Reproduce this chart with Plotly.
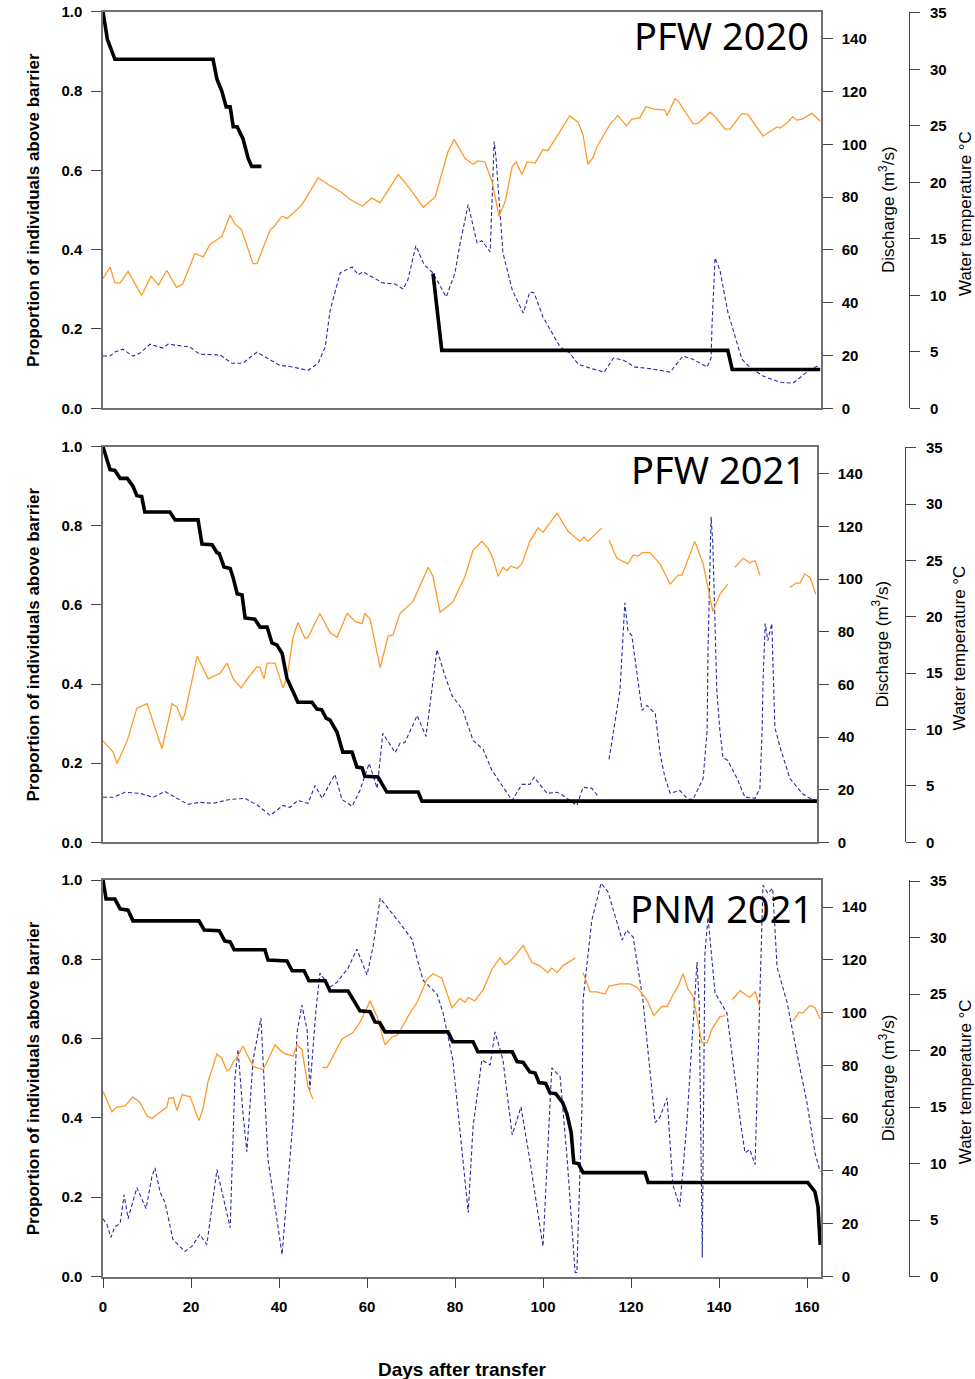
import plotly.graph_objects as go

# ---------------- DATA (day, value) ----------------
# PFW 2020
temp_pfw2020 = [(0,11.5),(1.6,12.5),(2.7,11.1),(3.9,11.1),(5.7,12.1),(8.8,10.0),(10.9,11.7),(12.6,10.9),(14.5,12.2),(16.7,10.7),(18.1,11.0),(20.9,13.7),(22.8,13.4),(24.3,14.5),(27,15.2),(28.9,17.1),(30,16.3),(31.5,15.8),(34.1,12.8),(35,12.8),(38,15.8),(38.7,16.0),(40.7,17.0),(41.9,16.8),(45.2,18.0),(48.9,20.4),(51.6,19.7),(53.9,19.2),(56.1,18.5),(58.9,17.9),(61.1,18.6),(63,18.2),(67.1,20.7),(69.8,19.4),(72.8,17.8),(75.5,18.7),(78.4,22.7),(79.8,23.8),(82.3,22.1),(84.1,21.6),(85.2,21.9),(86.8,21.8),(88.4,20.1),(90,17.0),(91.4,18.3),(93,21.4),(93.9,21.8),(95.2,20.7),(96.4,21.8),(98.2,21.7),(100,22.9),(101.1,22.8),(106.1,25.9),(108,25.3),(109.1,24.2),(110.2,21.6),(111.4,22.2),(112.2,23.1),(115.2,25.1),(117,25.9),(119,25.0),(120.2,25.6),(122,25.7),(123.4,26.7),(125,26.5),(127.7,26.4),(128.2,25.9),(130,27.4),(130.7,27.2),(134.1,25.2),(135.2,25.2),(138,26.2),(139.1,25.8),(141.4,24.7),(142.5,24.7),(145.2,26.1),(146.6,26.0),(150,24.1),(151.6,24.5),(153.2,24.9),(153.9,24.8),(155.5,25.3),(156.8,25.8),(157.7,25.5),(158.9,25.6),(161.1,26.1),(163,25.4)]
flow_pfw2020 = [(0,19.8),(1.6,19.8),(2.7,21.3),(4.5,22.4),(6.8,19.8),(8.4,20.9),(10.7,24.3),(13.6,22.8),(14.8,24.3),(19.8,23.2),(22,20.5),(26.6,20.2),(29.3,17.1),(31.8,17.1),(35,21.3),(38,18.3),(40.2,16.3),(43.2,15.6),(46.6,14.4),(48.9,17.1),(50.5,23.2),(51.6,37),(52.7,43.7),(53.9,51.3),(56.6,53.6),(58,50.6),(59.1,51.7),(61.1,49.8),(63.6,47.5),(66.4,47.1),(68.2,45.2),(69.3,48.7),(71.1,61.6),(73,54.4),(75,51.3),(78,42.2),(80,51.3),(81.1,62),(83,77.2),(85,62.7),(86.1,63.5),(88,59.3),(88.9,101.1),(89.3,95.4),(89.8,82.9),(90.9,58.9),(93,44.9),(95.5,36.1),(97,44.1),(98,43.7),(100,34.6),(103.9,23.2),(106.1,20.9),(108,16.7),(110.7,15.2),(113.9,13.7),(116,19.0),(118.2,18.3),(120.9,15.6),(123.6,15.2),(126.6,14.4),(128.9,13.7),(131.8,19.8),(134.1,18.6),(137.3,15.6),(138.2,19.0),(138.4,30.8),(139.1,57.0),(140.2,52.5),(142,36.5),(145.2,18.6),(147,15.6),(150,12.2),(153.9,9.9),(156.8,9.5),(159.1,12.5),(161.1,15.2),(163,16.3)]
prop_pfw2020 = [(0,1.0),(0.6,0.95),(1,0.93),(2.7,0.88),(25,0.88),(25.9,0.83),(27,0.80),(28,0.76),(28.9,0.76),(29.6,0.71),(30.5,0.71),(31.8,0.68),(33,0.63),(33.8,0.61),(36,0.61),(None,None),(75,0.34),(75.9,0.255),(77,0.146),(142,0.146),(143,0.098),(163,0.098)]

# PFW 2021
temp_pfw2021 = [(0,9.0),(2.3,8.0),(3.2,7.0),(5.5,9.0),(7.7,11.9),(10,12.3),(13.4,8.3),(15.7,12.3),(16.8,12.0),(18,10.8),(18.6,11.4),(21.4,16.5),(23.9,14.5),(26.6,15.0),(28.2,15.9),(29.6,14.5),(31.4,13.7),(33,14.6),(35,15.6),(35.7,15.5),(36.6,14.5),(37.3,15.9),(39.1,15.9),(40.9,13.7),(41.8,14.6),(43.2,18.2),(44.3,19.5),(45.9,18.1),(46.6,18.2),(49.3,20.3),(51.6,18.6),(53.2,18.2),(55.5,20.3),(57.3,19.6),(58.9,19.4),(59.5,20.3),(60.7,19.8),(63,15.5),(64.8,18.3),(65.9,18.4),(67.5,20.3),(70.5,21.4),(73.9,24.4),(75,23.6),(76.6,20.4),(79.5,21.3),(82.3,23.6),(84.1,25.9),(86.1,26.7),(87.5,26.1),(88.6,25.2),(89.8,23.6),(90.9,24.4),(91.8,24.1),(92.7,24.5),(94.1,24.3),(95.2,24.7),(97,26.7),(98.9,27.9),(100,27.5),(103.2,29.2),(105.7,27.6),(108.4,26.7),(109.3,27.1),(110.2,26.7),(113.4,27.9),(None,None),(115,26.8),(116.8,25.2),(119.3,24.7),(120.5,25.5),(121.6,25.4),(122.5,25.7),(124.3,25.7),(126.6,24.7),(128.9,22.9),(130.7,23.7),(131.6,23.7),(134.5,26.7),(136.4,24.7),(138,21.4),(138.6,20.5),(140.2,22.0),(142,22.9),(None,None),(143.6,24.4),(145.5,25.2),(147,24.8),(148.2,25.0),(149.3,23.7),(None,None),(156.1,22.6),(157.5,23.0),(158.4,23.0),(159.5,23.8),(160.7,23.5),(162,22.0)]
flow_pfw2021 = [(0,17.1),(2.3,17.1),(5,19.0),(8.4,18.6),(11.4,17.1),(14.1,19.3),(16.4,17.1),(19.3,14.4),(22,15.2),(25,14.8),(28.9,16.3),(32.3,16.7),(35.2,14.0),(38,10.2),(40.9,14.0),(42.5,13.3),(44.3,15.9),(46.6,14.8),(48.2,21.6),(49.8,16.7),(51.6,22.4),(52.7,25.8),(54.3,16.3),(56.6,13.7),(58.4,19.7),(60.5,30.0),(62.3,20.5),(63.6,41.4),(66.4,34.1),(67.5,37.6),(68.6,37.9),(71.4,48.2),(73.4,40.2),(74.3,52.7),(75.9,73.2),(77.7,63.4),(79.3,55.8),(81.8,50.1),(84.1,38.7),(86.4,35.3),(88.4,27.3),(90.2,22.8),(93,15.9),(95.2,22.0),(97,22.0),(98,24.7),(100.9,18.6),(103.2,19.0),(104.5,17.8),(107.7,14.0),(109.1,20.9),(111.1,20.5),(112.5,17.5),(None,None),(115,31.5),(116.4,46.3),(117.5,57.7),(118.6,91.0),(119.3,80.4),(120.2,78.5),(122,56.5),(122.5,50.1),(123.6,52.0),(125.5,48.9),(126.6,33.8),(127.7,24.7),(128.9,18.6),(131.1,19.7),(133,16.3),(134.1,16.3),(136.4,24.3),(137.3,42.5),(137.5,72.8),(138,111.9),(138.2,123.7),(138.6,113.4),(139.1,80.4),(139.5,57.7),(140.2,42.5),(140.9,32.2),(142,31.1),(144.1,24.3),(145.9,17.1),(148.2,16.7),(149.3,20.5),(149.8,42.5),(150,60.3),(150.5,83.1),(151.1,76.6),(152,83.1),(152.7,43.6),(153.9,36.0),(156.1,24.3),(158.9,18.6),(160.2,17.1),(162,15.9)]
prop_pfw2021 = [(0,1.0),(1.6,0.942),(2.7,0.94),(3.9,0.92),(5.5,0.92),(6.8,0.90),(7.7,0.876),(8.8,0.874),(9.5,0.835),(15.2,0.835),(16.4,0.815),(21.6,0.815),(22.5,0.754),(24.8,0.752),(25.9,0.732),(26.4,0.73),(27.5,0.696),(28.9,0.692),(29.6,0.668),(30.5,0.628),(31.6,0.625),(32.3,0.567),(34.5,0.564),(35.7,0.544),(37.3,0.544),(38.4,0.504),(39.5,0.499),(40.7,0.478),(41.8,0.415),(44.3,0.354),(47.5,0.354),(48.6,0.337),(49.7,0.335),(50.7,0.314),(51.6,0.309),(53.2,0.278),(54.5,0.228),(56.6,0.228),(57.7,0.19),(58.9,0.188),(59.5,0.167),(62.5,0.165),(64.5,0.127),(71.6,0.127),(72.5,0.104),(162.3,0.104)]

# PNM 2021
temp_pnm2021 = [(0,16.4),(2,14.6),(3.2,15.0),(5,15.1),(6.8,15.9),(8.4,15.4),(10,14.2),(11.1,14.0),(12.5,14.4),(14.5,15.0),(15,15.8),(16,15.8),(16.8,14.7),(18,16.1),(19.8,15.9),(21.8,13.8),(22.7,14.8),(23.9,17.3),(25.9,19.7),(27,19.3),(28.2,18.2),(28.9,18.4),(29.6,19.0),(30.5,19.4),(31.8,20.4),(34.1,18.6),(36.4,18.3),(39.1,20.5),(40.9,19.8),(43.2,19.5),(44.1,20.5),(45.2,20.1),(46.6,16.8),(47.7,15.7),(None,None),(49.8,18.5),(50.9,18.5),(51.6,19.0),(54.3,21.0),(56.8,21.6),(58.4,22.5),(60.7,24.4),(62.3,23.0),(64.1,20.5),(65.7,21.2),(67,21.4),(69.3,23.0),(71.4,24.3),(73.6,26.3),(75,26.8),(77,26.4),(79.3,23.8),(81.1,24.6),(82.3,24.3),(83,24.7),(84.5,24.4),(86.4,25.4),(88.4,27.2),(90.2,28.2),(91.4,27.6),(93,28.1),(95.5,29.3),(97.5,27.8),(99.3,27.5),(101.1,26.9),(102,27.3),(103.2,26.9),(104.5,27.5),(107.3,28.2),(None,None),(109.1,26.9),(110.7,25.2),(112.3,25.2),(114.1,25.0),(115,25.7),(117.5,25.9),(119.8,25.9),(121.4,25.6),(123.6,24.5),(125.2,23.1),(127,23.9),(128.2,23.9),(129.5,24.9),(130.7,25.7),(131.8,26.8),(133,25.4),(134.1,24.8),(136.1,20.7),(137.3,20.7),(138.4,21.9),(140.2,23.0),(141.4,23.1),(None,None),(143,24.5),(144.8,25.3),(147,24.7),(148.2,25.2),(149.3,23.8),(None,None),(156.8,22.6),(158.2,23.4),(159,23.3),(160.7,24.0),(161.8,23.8),(163,22.8)]
flow_pnm2021 = [(0,21.9),(0.9,19.7),(1.8,14.8),(2.7,18.9),(3.9,20.1),(4.8,31.0),(5.7,21.9),(7.7,33.7),(9.8,25.7),(11.1,37.8),(11.8,41.2),(13,31.8),(14.1,28.0),(15.9,14.0),(18.6,9.5),(20.2,11.4),(22,15.9),(23.6,12.1),(25.9,40.5),(27.3,30.3),(28.9,18.5),(30,75.3),(30.7,85.9),(31.8,62.1),(32.7,47.3),(34.1,82.1),(35.9,98.0),(37.5,44.3),(39.1,26.5),(40.7,8.3),(43.2,59.4),(44.1,92.3),(45.2,102.9),(46.4,93.5),(47,70.8),(48.4,101.0),(49.3,115.0),(51.6,109.7),(53.2,111.6),(55.7,116.9),(57.7,124.1),(60,114.3),(61.4,125.2),(63,143.4),(67.5,133.9),(70.2,127.9),(72.7,112.4),(75.9,107.1),(77.3,99.9),(79.5,82.1),(81.8,44.3),(83,24.2),(84.1,56.8),(86.1,82.1),(88,80.2),(89.1,92.7),(90.9,82.1),(93,53.7),(95,64.3),(97,44.3),(100,11.4),(102,79.1),(103.9,75.7),(105.5,44.3),(107.3,1.5),(107.7,1.5),(108.9,67.0),(109.1,104.8),(111.1,135.1),(113.2,149.1),(114.8,145.7),(118,127.5),(119,131.3),(120.5,128.6),(122.7,104.8),(124.3,79.5),(125.5,58.3),(126.6,60.5),(128.2,67.7),(129.5,34.8),(131.1,26.5),(132.7,58.3),(134.1,94.6),(135,119.2),(135.5,103.7),(136.1,21.6),(136.2,7.2),(136.4,46.9),(136.8,122.6),(137.5,136.2),(138.4,119.9),(139.1,107.5),(141.8,99.9),(144.8,59.4),(145.9,46.9),(147,48.1),(148.2,42.4),(149.3,104.8),(150,148.3),(151.1,145.3),(152.2,147.2),(153.2,117.3),(155.5,103.7),(157.7,84.8),(160,65.8),(161.8,46.9),(163,39.7)]
prop_pnm2021 = [(0,1.0),(0.7,0.952),(2.7,0.952),(3.9,0.927),(5.7,0.924),(6.8,0.897),(21.8,0.897),(23,0.874),(26.4,0.872),(27.7,0.846),(28.9,0.844),(29.8,0.824),(36.8,0.824),(37.5,0.798),(41.8,0.796),(43,0.771),(45.7,0.771),(46.8,0.746),(50.5,0.746),(51.6,0.72),(55.7,0.72),(56.8,0.698),(58.4,0.67),(60.7,0.668),(61.8,0.642),(62.9,0.64),(64.1,0.617),(78.4,0.617),(79.5,0.592),(84.1,0.592),(85.2,0.567),(93,0.567),(94.1,0.542),(95.5,0.54),(97,0.516),(98.2,0.513),(99.1,0.489),(100.6,0.487),(101.6,0.463),(102.9,0.461),(104.5,0.438),(105.5,0.408),(106.4,0.363),(106.8,0.312),(107,0.287),(108,0.285),(109.1,0.262),(123.2,0.262),(123.9,0.237),(160.2,0.237),(161.8,0.214),(162.5,0.176),(163,0.08)]

panel_names = ["PFW 2020", "PFW 2021", "PNM 2021"]
prop_ticks = [0.0, 0.2, 0.4, 0.6, 0.8, 1.0]
flow_ticks = [0, 20, 40, 60, 80, 100, 120, 140]
temp_ticks = [0, 5, 10, 15, 20, 25, 30, 35]
day_ticks = [0, 20, 40, 60, 80, 100, 120, 140, 160]

series = [(temp_pfw2020, flow_pfw2020, prop_pfw2020),
          (temp_pfw2021, flow_pfw2021, prop_pfw2021),
          (temp_pnm2021, flow_pnm2021, prop_pnm2021)]

# ---------------- LAYOUT GEOMETRY (pixels) ----------------
W, H = 975, 1379
# (top, bottom, left, right, temp-axis x, label right, label y, disch title x, temp title x)
geo = [(11.7, 408.3, 103, 821, 909, 811, 35, 887, 965),
       (446.7, 842.3, 103, 817, 905, 808, 469, 880, 959),
       (880, 1276.5, 103, 821, 909, 815, 908, 887, 965)]
PXDAY = 4.4

def px(x):
    return x / W

def py(y):
    return 1 - y / H

def unzip(pairs):
    return [p[0] for p in pairs], [p[1] for p in pairs]

fig = go.Figure()
layout = dict(width=W, height=H, margin=dict(l=0, r=0, t=0, b=0, autoexpand=False),
              paper_bgcolor="white", plot_bgcolor="white", showlegend=False)
annotations = []
BOX = "#707070"
TICKFONT = dict(family="Liberation Sans, Arial", size=15, color="black", weight="bold")
TITLEFONT = dict(family="Liberation Sans, Arial", size=17, color="black")

for i, (temp, flow, prop) in enumerate(series):
    top, bot, left, right, tx, lx, ly, dtx, ttx = geo[i]
    xid = "" if i == 0 else str(i + 1)
    yb, yt, yp = 3 * i + 1, 3 * i + 2, 3 * i + 3
    ybn = "" if yb == 1 else str(yb)
    ydom = [py(bot), py(top)]
    xr = (right - left) / PXDAY
    last = i == 2
    layout["xaxis" + xid] = dict(domain=[px(left), px(right)], range=[0, xr], anchor="y" + ybn,
                                 automargin=False,
                                 showline=True, mirror=True, linecolor=BOX, linewidth=1.5,
                                 showgrid=False, zeroline=False,
                                 ticks="outside" if last else "", ticklen=10, tickcolor="#444",
                                 ticklabelstandoff=6,
                                 tickvals=day_ticks, showticklabels=last, tickfont=TICKFONT)
    layout["yaxis" + ybn] = dict(domain=ydom, anchor="x" + xid, side="right", range=[0, 150.3],
                                 automargin=False,
                                 tickvals=flow_ticks, ticks="outside", ticklen=10, tickcolor="#444",
                                 ticklabelstandoff=6,
                                 showline=True, linecolor=BOX, linewidth=1.5, showgrid=False,
                                 zeroline=False, tickfont=TICKFONT)
    layout["yaxis" + str(yt)] = dict(overlaying="y" + ybn, anchor="free", position=px(tx),
                                     automargin=False,
                                     side="right", range=[0, 35.1], tickvals=temp_ticks,
                                     ticks="outside", ticklen=10, tickcolor="#444",
                                     ticklabelstandoff=7,
                                     showline=True, linecolor="#444", linewidth=1,
                                     showgrid=False, zeroline=False, tickfont=TICKFONT)
    layout["yaxis" + str(yp)] = dict(overlaying="y" + ybn, anchor="x" + xid, side="left",
                                     automargin=False,
                                     range=[0, 1], tickvals=prop_ticks, tickformat=".1f",
                                     ticks="outside", ticklen=10, tickcolor="#444",
                                     ticklabelstandoff=6,
                                     showline=True, linecolor=BOX, linewidth=1.5,
                                     showgrid=False, zeroline=False, tickfont=TICKFONT)

    fx, fy = unzip(flow)
    fig.add_trace(go.Scatter(x=fx, y=fy, mode="lines", xaxis="x" + xid, yaxis="y" + ybn,
                             line=dict(color="#2a2aa0", width=1.1, dash="4px,2.5px"),
                             connectgaps=False))
    tx_, ty_ = unzip(temp)
    fig.add_trace(go.Scatter(x=tx_, y=ty_, mode="lines", xaxis="x" + xid, yaxis="y" + str(yt),
                             line=dict(color="#ff9a2a", width=1.3), connectgaps=False))
    px_, py_ = unzip(prop)
    fig.add_trace(go.Scatter(x=px_, y=py_, mode="lines", xaxis="x" + xid, yaxis="y" + str(yp),
                             line=dict(color="black", width=3.6), connectgaps=False))

    mid = (top + bot) / 2
    annotations.append(dict(x=px(lx), y=py(ly), xref="paper", yref="paper", text=panel_names[i],
                            showarrow=False, xanchor="right", yanchor="middle",
                            font=dict(family="Noto Sans", size=38, color="black")))
    annotations.append(dict(x=px(33), y=py(mid), xref="paper", yref="paper",
                            text="Proportion of individuals above barrier", textangle=-90,
                            showarrow=False, xanchor="center", yanchor="middle",
                            font=dict(TITLEFONT, weight="bold")))
    annotations.append(dict(x=px(dtx), y=py(mid), xref="paper", yref="paper",
                            text="Discharge (m<sup>3</sup>/s)", textangle=-90,
                            showarrow=False, xanchor="center", yanchor="middle",
                            font=TITLEFONT))
    annotations.append(dict(x=px(ttx), y=py(mid + 4), xref="paper", yref="paper",
                            text="Water temperature °C", textangle=-90,
                            showarrow=False, xanchor="center", yanchor="middle",
                            font=TITLEFONT))

annotations.append(dict(x=px(462), y=py(1369), xref="paper", yref="paper",
                        text="Days after transfer", showarrow=False,
                        xanchor="center", yanchor="middle",
                        font=dict(family="Liberation Sans, Arial", size=19, color="black",
                                  weight="bold")))
layout["annotations"] = annotations
fig.update_layout(**layout)
fig.write_html("out.html")
